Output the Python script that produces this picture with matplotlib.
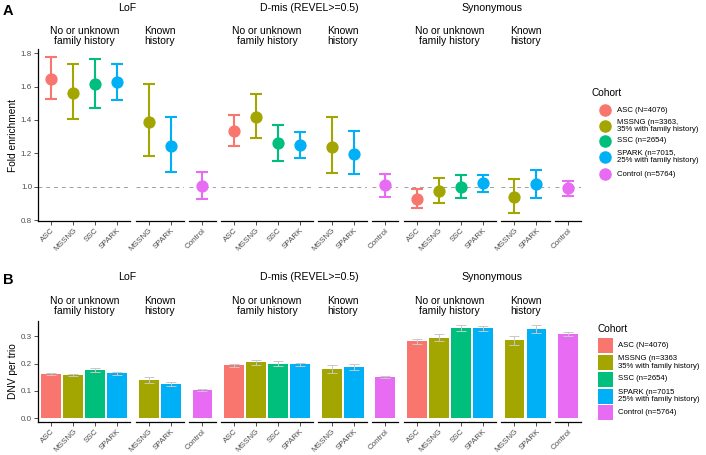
import matplotlib
matplotlib.use("Agg")
import matplotlib.pyplot as plt
from matplotlib.lines import Line2D
from matplotlib.patches import Rectangle
import numpy as np

plt.rcParams['font.family'] = ['Liberation Sans', 'DejaVu Sans']

W, H = 706, 455

cohorts = ["ASC", "MSSNG", "SSC", "SPARK", "Control"]
cohort_colors = ["#F8766D", "#A3A500", "#00BF7D", "#00B0F6", "#E76BF3"]
legend_labels_a = ["ASC (N=4076)", "MSSNG (n=3363,\n35% with family history)", "SSC (n=2654)",
                   "SPARK (n=7015,\n25% with family history)", "Control (n=5764)"]
legend_labels_b = ["ASC (N=4076)", "MSSNG (n=3363\n35% with family history)", "SSC (n=2654)",
                   "SPARK (n=7015\n25% with family history)", "Control (n=5764)"]

variant_classes = ["LoF", "D-mis (REVEL>=0.5)", "Synonymous"]
subgroups = [["ASC", "MSSNG", "SSC", "SPARK"], ["MSSNG", "SPARK"], ["Control"]]
strip_labels = ["No or unknown\nfamily history", "Known\nhistory", ""]

# order of values: ASC, MSSNG, SSC, SPARK | MSSNG, SPARK (known history) | Control
fe_lof = [1.646, 1.564, 1.616, 1.626, 1.386, 1.242, 1.006]
fe_lof_lo = [1.524, 1.406, 1.474, 1.520, 1.184, 1.086, 0.924]
fe_lof_hi = [1.780, 1.738, 1.766, 1.736, 1.616, 1.416, 1.088]
fe_dmis = [1.336, 1.420, 1.260, 1.248, 1.240, 1.196, 1.008]
fe_dmis_lo = [1.246, 1.294, 1.154, 1.174, 1.080, 1.074, 0.940]
fe_dmis_hi = [1.430, 1.556, 1.368, 1.326, 1.416, 1.332, 1.076]
fe_syn = [0.926, 0.974, 1.000, 1.020, 0.940, 1.014, 0.990]
fe_syn_lo = [0.870, 0.900, 0.934, 0.970, 0.840, 0.930, 0.944]
fe_syn_hi = [0.984, 1.050, 1.070, 1.068, 1.046, 1.098, 1.036]

rate_lof = [0.162, 0.158, 0.176, 0.164, 0.141, 0.127, 0.104]
rate_lof_lo = [0.157, 0.154, 0.168, 0.160, 0.130, 0.119, 0.101]
rate_lof_hi = [0.167, 0.163, 0.185, 0.168, 0.152, 0.134, 0.107]
rate_dmis = [0.193, 0.204, 0.200, 0.197, 0.179, 0.187, 0.151]
rate_dmis_lo = [0.188, 0.195, 0.191, 0.191, 0.166, 0.176, 0.147]
rate_dmis_hi = [0.200, 0.214, 0.208, 0.203, 0.193, 0.198, 0.155]
rate_syn = [0.281, 0.294, 0.328, 0.328, 0.285, 0.325, 0.308]
rate_syn_lo = [0.272, 0.282, 0.317, 0.320, 0.269, 0.310, 0.300]
rate_syn_hi = [0.290, 0.307, 0.340, 0.336, 0.302, 0.339, 0.315]

fe_data = [(fe_lof, fe_lof_lo, fe_lof_hi), (fe_dmis, fe_dmis_lo, fe_dmis_hi), (fe_syn, fe_syn_lo, fe_syn_hi)]
rate_data = [(rate_lof, rate_lof_lo, rate_lof_hi), (rate_dmis, rate_dmis_lo, rate_dmis_hi),
             (rate_syn, rate_syn_lo, rate_syn_hi)]
slices = [slice(0, 4), slice(4, 6), slice(6, 7)]

color_of = dict(zip(cohorts, cohort_colors))

fig = plt.figure(figsize=(W / 100, H / 100), dpi=100)


def px_axes(left, right, top, bottom):
    return fig.add_axes([left / W, 1 - bottom / H, (right - left) / W, (bottom - top) / H])


def style(ax, first, labels):
    for s in ["top", "right"]:
        ax.spines[s].set_visible(False)
    ax.spines["left"].set_visible(first)
    ax.spines["bottom"].set_linewidth(0.9)
    ax.spines["left"].set_linewidth(0.9)
    ax.set_xlim(0.4, len(labels) + 0.6)
    ax.set_xticks(np.arange(1, len(labels) + 1))
    ax.set_xticklabels(labels, rotation=45, ha="right", va="top", rotation_mode="anchor",
                       fontsize=5.8, color="#4D4D4D")
    ax.tick_params(axis="x", length=2.75, width=0.6, color="#333333", pad=1.5)
    ax.tick_params(axis="y", length=2.75, width=0.6, color="#333333", pad=1.5,
                   labelsize=5.8, labelcolor="#4D4D4D", left=first, labelleft=first)
    ax.patch.set_visible(False)


unit, gap, x0 = 22.0, 5.2, 38.0
panel_x = []
x = x0
for vc in variant_classes:
    row = []
    for grp in subgroups:
        w = (len(grp) + 0.2) * unit
        row.append((x, x + w))
        x += w + gap
    panel_x.append(row)

ov = fig.add_axes([0, 0, 1, 1])
ov.set_xlim(0, W)
ov.set_ylim(H, 0)
ov.axis("off")

# panel A: fold enrichment
for i, vc in enumerate(variant_classes):
    vals, lo, hi = [np.array(a) for a in fe_data[i]]
    for j, grp in enumerate(subgroups):
        l, r = panel_x[i][j]
        ax = px_axes(l, r, 48.8, 221.2)
        style(ax, i == 0 and j == 0, grp)
        ax.set_ylim(0.793, 1.827)
        ax.set_yticks([0.8, 1.0, 1.2, 1.4, 1.6, 1.8])
        ax.set_yticklabels(["0.8", "1.0", "1.2", "1.4", "1.6", "1.8"])
        ax.axhline(1.0, ls=(0, (4, 4)), color="#A0A0A0", lw=0.7, zorder=0)
        v, a, b = vals[slices[j]], lo[slices[j]], hi[slices[j]]
        for k, name in enumerate(grp):
            ax.errorbar(k + 1, v[k], yerr=[[v[k] - a[k]], [b[k] - v[k]]], fmt="o",
                        color=color_of[name], ms=7.8, elinewidth=1.5, capsize=4.5, capthick=1.5)
        if i == 0 and j == 0:
            ax.set_ylabel("Fold enrichment", fontsize=7.3, labelpad=2)
        ov.text((l + r) / 2, 36, strip_labels[j], ha="center", va="center", fontsize=7.5,
                linespacing=1.1)
    ov.text((panel_x[i][0][0] + panel_x[i][2][1]) / 2, 8, vc, ha="center", va="center", fontsize=7.6)

# panel B: DNV per trio
for i, vc in enumerate(variant_classes):
    vals, lo, hi = [np.array(a) for a in rate_data[i]]
    for j, grp in enumerate(subgroups):
        l, r = panel_x[i][j]
        ax = px_axes(l, r, 321.0, 422.0)
        style(ax, i == 0 and j == 0, grp)
        ax.set_ylim(-0.013, 0.355)
        ax.set_yticks([0.0, 0.1, 0.2, 0.3])
        ax.set_yticklabels(["0.0", "0.1", "0.2", "0.3"])
        v, a, b = vals[slices[j]], lo[slices[j]], hi[slices[j]]
        xs = np.arange(1, len(grp) + 1)
        ax.bar(xs, v, width=0.9, color=[color_of[n] for n in grp])
        ax.errorbar(xs, v, yerr=[v - a, b - v], fmt="none", ecolor="#C8C8C8", elinewidth=0.7,
                    capsize=3.8, capthick=0.7)
        if i == 0 and j == 0:
            ax.set_ylabel("DNV per trio", fontsize=7.3, labelpad=2)
        ov.text((l + r) / 2, 306, strip_labels[j], ha="center", va="center", fontsize=7.5,
                linespacing=1.1)
    ov.text((panel_x[i][0][0] + panel_x[i][2][1]) / 2, 277, vc, ha="center", va="center", fontsize=7.6)

ov.text(3, 11, "A", fontsize=10.5, fontweight="bold", va="center", ha="left")
ov.text(3, 280, "B", fontsize=10.5, fontweight="bold", va="center", ha="left")

# legends
ov.text(592, 93, "Cohort", fontsize=7.3, va="center", ha="left")
leg_y_a = [110, 126, 141, 157, 174]
for y, c, lab in zip(leg_y_a, cohort_colors, legend_labels_a):
    ov.add_line(Line2D([605], [y], marker="o", ms=8, color=c, ls="none"))
    ov.text(617, y, lab, fontsize=5.6, va="center", ha="left", linespacing=1.05)

ov.text(597, 329, "Cohort", fontsize=7.3, va="center", ha="left")
leg_y_b = [345.5, 362.5, 379, 396, 412.5]
for y, c, lab in zip(leg_y_b, cohort_colors, legend_labels_b):
    ov.add_patch(Rectangle((597.5, y - 7.5), 15, 15, color=c, lw=0))
    ov.text(618, y, lab, fontsize=5.6, va="center", ha="left", linespacing=1.05)

fig.savefig("out.png", dpi=100)
